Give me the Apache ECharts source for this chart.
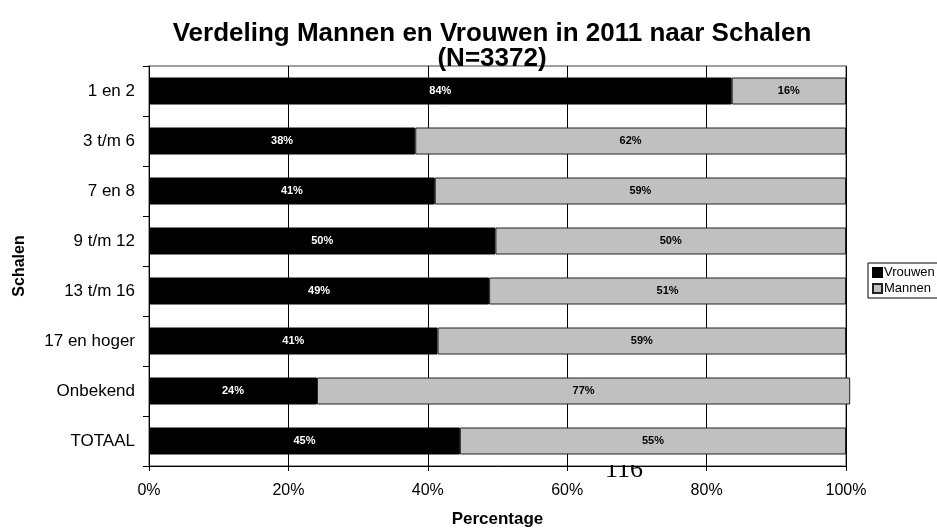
<!DOCTYPE html>
<html><head><meta charset="utf-8">
<script src="https://cdn.jsdelivr.net/npm/echarts@6/dist/echarts.min.js"></script>
<style>html,body{margin:0;padding:0;background:#fff}#c{width:937px;height:529px}</style>
</head><body><div id="c"></div>
<script>
var categories = ["1 en 2","3 t/m 6","7 en 8","9 t/m 12","13 t/m 16","17 en hoger","Onbekend","TOTAAL"];
var vrouwen = [83.6, 38.2, 41.0, 49.7, 48.8, 41.4, 24.1, 44.6];
var mannen  = [16.4, 61.8, 59.0, 50.3, 51.2, 58.6, 76.5, 55.4];
var xTicks = [0, 20, 40, 60, 80, 100];

var F = "Liberation Sans, Arial, sans-serif";
var chart = echarts.init(document.getElementById('c'), null, {renderer:'canvas'});
chart.setOption({
  animation:false,
  textStyle:{fontFamily:F},
  title:{text:"Verdeling Mannen en Vrouwen in 2011 naar Schalen\n(N=3372)", left:487, textAlign:'center', top:16,
    textStyle:{fontFamily:F, fontSize:26, fontWeight:'bold', color:'#000', lineHeight:25}},
  legend:{orient:'vertical', left:868, top:263, itemWidth:9, itemHeight:9, itemGap:3, padding:[3,4,3,4],
    borderColor:'#000', borderWidth:1, icon:'rect',
    textStyle:{fontFamily:F, fontSize:13, color:'#000', padding:[0,0,0,-3]},
    data:['Vrouwen','Mannen']},
  grid:{left:149, right:91, top:66, bottom:63, show:true, borderColor:'#808080', borderWidth:1.5,
    containLabel:false, outerBoundsMode:'none'},
  xAxis:{type:'value', min:xTicks[0], max:xTicks[xTicks.length-1], interval:20,
    name:'Percentage', nameLocation:'middle', nameGap:45,
    nameTextStyle:{fontFamily:F, fontSize:17, fontWeight:'bold', color:'#000'},
    axisLine:{show:true, lineStyle:{color:'#000', width:1}},
    axisTick:{show:true, length:5, lineStyle:{color:'#000'}},
    axisLabel:{formatter:'{value}%', fontFamily:F, fontSize:16, color:'#000', margin:17},
    splitLine:{show:true, lineStyle:{color:'#000', width:1}}},
  yAxis:{type:'category', inverse:true, data:categories,
    name:'Schalen', nameLocation:'middle', nameRotate:90, nameGap:121,
    nameTextStyle:{fontFamily:F, fontSize:16, fontWeight:'bold', color:'#000'},
    axisLine:{show:true, lineStyle:{color:'#000', width:1}},
    axisTick:{show:true, length:6, inside:false, lineStyle:{color:'#000'}},
    axisLabel:{fontFamily:F, fontSize:17, color:'#000', margin:14},
    splitLine:{show:false}},
  series:[
    {name:'Vrouwen', type:'bar', stack:'s', data:vrouwen, barWidth:27, clip:false,
     itemStyle:{color:'#000', borderColor:'#000', borderWidth:1},
     label:{show:true, position:'inside', formatter:function(p){return Math.round(p.value)+'%';},
       fontFamily:F, fontSize:11, fontWeight:'bold', color:'#fff'}},
    {name:'Mannen', type:'bar', stack:'s', data:mannen, barWidth:27, clip:false,
     itemStyle:{color:'#C0C0C0', borderColor:'#222', borderWidth:1},
     label:{show:true, position:'inside', formatter:function(p){return Math.round(p.value)+'%';},
       fontFamily:F, fontSize:11, fontWeight:'bold', color:'#000'}}
  ],
  graphic:[
    {type:'text', left:605, top:457, z:1, style:{text:'116', font:'26px Liberation Serif, serif', fill:'#000'}},
    {type:'rect', shape:{x:598, y:455, width:55, height:10}, z:2, style:{fill:'#fff'}}
  ]
});
</script></body></html>
